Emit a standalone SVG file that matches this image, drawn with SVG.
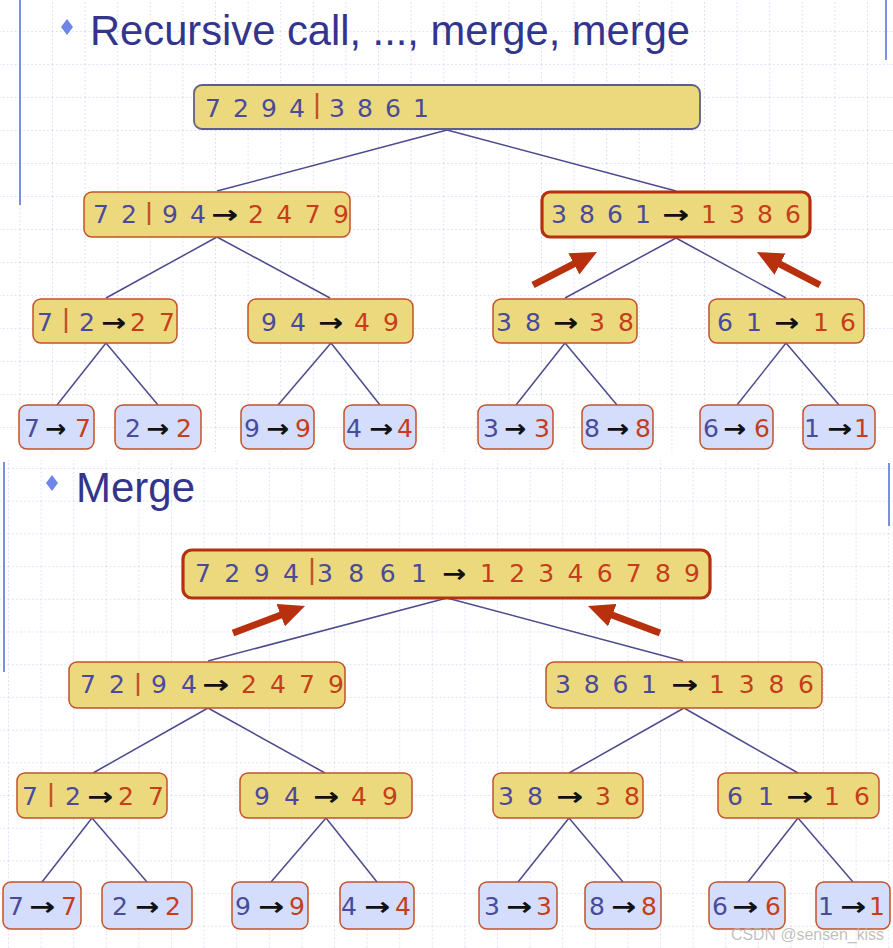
<svg xmlns="http://www.w3.org/2000/svg" width="893" height="948" viewBox="0 0 893 948">
<style>
.y{fill:#ecd97e;stroke:#c4512a;stroke-width:1.5}
.yk{fill:#ecd97e;stroke:#b5300f;stroke-width:3.2}
.yt{fill:#ecd97e;stroke:#5e5e8a;stroke-width:1.8}
.lf{fill:#d4ddfb;stroke:#c4512a;stroke-width:1.5}
text{font-family:"DejaVu Sans",Verdana,sans-serif;font-size:25px}
.b{fill:#4a4a9c}
.r{fill:#c53d1b}
.a{fill:#111;font-weight:bold}
.bar{stroke:#c4512a;stroke-width:2.5}
.conn line{stroke:#4b4b8e;stroke-width:1.5}
.big{stroke:#b8300e;stroke-width:7;marker-end:url(#hd)}
.ttl{font-family:"Liberation Sans",Arial,sans-serif;font-size:42px;fill:#33358c}
.edge{stroke:#7b8ee0;stroke-width:2}
.gl{stroke:#d5ddf2;stroke-width:1;stroke-dasharray:1.5 2.5}
</style>
<defs>
<pattern id="gT" patternUnits="userSpaceOnUse" x="19.4" y="31" width="32.6" height="33">
<line class="gl" x1="0.5" y1="0" x2="0.5" y2="33"/>
<line class="gl" x1="0" y1="0.5" x2="32.6" y2="0.5"/>
</pattern>
<pattern id="gB" patternUnits="userSpaceOnUse" x="8" y="468" width="32.6" height="32.7">
<line class="gl" x1="0.5" y1="0" x2="0.5" y2="32.7"/>
<line class="gl" x1="0" y1="0.5" x2="32.6" y2="0.5"/>
</pattern>
<marker id="hd" markerUnits="userSpaceOnUse" viewBox="0 0 26 24" markerWidth="26" markerHeight="24" refX="6" refY="12" orient="auto">
<path d="M0,0 L26,12 L0,24 z" fill="#b8300e"/>
</marker>
</defs>
<rect width="893" height="948" fill="#fff"/>
<rect x="0" y="0" width="893" height="452" fill="url(#gT)"/>
<rect x="0" y="460" width="893" height="488" fill="url(#gB)"/>
<line class="edge" x1="20" y1="0" x2="20" y2="205"/>
<line class="edge" x1="886" y1="0" x2="886" y2="60"/>
<line class="edge" x1="4" y1="462" x2="4" y2="672"/>
<line class="edge" x1="889" y1="463" x2="889" y2="526"/>

<g id="title1">
<polygon points="67,19 73,27 67,35 61,27" fill="#6f86e6"/>
<text class="ttl" x="90" y="45" textLength="600" lengthAdjust="spacingAndGlyphs">Recursive call, ..., merge, merge</text>
</g>
<g id="title2">
<polygon points="52,475 58,483 52,491 46,483" fill="#6f86e6"/>
<text class="ttl" x="76" y="502" textLength="119" lengthAdjust="spacingAndGlyphs">Merge</text>
</g>

<g class="conn" id="connectors">
<line x1="447" y1="130" x2="217" y2="191"/>
<line x1="447" y1="130" x2="676" y2="191"/>
<line x1="217" y1="237" x2="106" y2="298"/>
<line x1="217" y1="237" x2="330" y2="298"/>
<line x1="676" y1="238" x2="565" y2="298"/>
<line x1="676" y1="238" x2="786" y2="298"/>
<line x1="106" y1="343" x2="57" y2="405"/>
<line x1="106" y1="343" x2="158" y2="405"/>
<line x1="331" y1="343" x2="278" y2="405"/>
<line x1="331" y1="343" x2="380" y2="405"/>
<line x1="565" y1="343" x2="516" y2="405"/>
<line x1="565" y1="343" x2="617" y2="405"/>
<line x1="786" y1="343" x2="737" y2="405"/>
<line x1="786" y1="343" x2="839" y2="405"/>
<line x1="447" y1="598" x2="208" y2="661"/>
<line x1="447" y1="598" x2="683" y2="661"/>
<line x1="208" y1="708" x2="93" y2="773"/>
<line x1="208" y1="708" x2="325" y2="773"/>
<line x1="684" y1="708" x2="569" y2="773"/>
<line x1="684" y1="708" x2="798" y2="773"/>
<line x1="92" y1="818" x2="42" y2="882"/>
<line x1="92" y1="818" x2="147" y2="882"/>
<line x1="326" y1="818" x2="271" y2="882"/>
<line x1="326" y1="818" x2="377" y2="882"/>
<line x1="569" y1="818" x2="518" y2="882"/>
<line x1="569" y1="818" x2="623" y2="882"/>
<line x1="798" y1="818" x2="748" y2="882"/>
<line x1="798" y1="818" x2="853" y2="882"/>
</g>

<g id="merge-arrows">
<line class="big" x1="533" y1="285" x2="579.2" y2="261.2"/>
<line class="big" x1="820" y1="285" x2="774.7" y2="261.3"/>
<line class="big" x1="233" y1="633" x2="286.3" y2="613"/>
<line class="big" x1="660" y1="633" x2="606.7" y2="613"/>
</g>

<!-- top panel -->
<g id="t-root">
<rect class="yt" x="194" y="85" width="506" height="44" rx="8"/>
<text class="b" x="205" y="117" textLength="100" lengthAdjust="spacing">7 2 9 4</text>
<line class="bar" x1="317" y1="93" x2="317" y2="119"/>
<text class="b" x="329" y="117" textLength="100" lengthAdjust="spacing">3 8 6 1</text>
</g>
<g id="t-l">
<rect class="y" x="84" y="192" width="266" height="45" rx="8"/>
<text class="b" x="93" y="223" textLength="44" lengthAdjust="spacing">7 2</text>
<line class="bar" x1="149" y1="202" x2="149" y2="225"/>
<text class="b" x="162" y="223" textLength="44" lengthAdjust="spacing">9 4</text>
<text class="a" x="211" y="223" textLength="27" lengthAdjust="spacingAndGlyphs">→</text>
<text class="r" x="248" y="223" textLength="101" lengthAdjust="spacing">2 4 7 9</text>
</g>
<g id="t-r">
<rect class="yk" x="542" y="192" width="268" height="45" rx="8"/>
<text class="b" x="551" y="223" textLength="100" lengthAdjust="spacing">3 8 6 1</text>
<text class="a" x="662" y="223" textLength="27" lengthAdjust="spacingAndGlyphs">→</text>
<text class="r" x="701" y="223" textLength="100" lengthAdjust="spacing">1 3 8 6</text>
</g>
<g id="t-ll">
<rect class="y" x="33" y="299" width="144" height="44" rx="8"/>
<text class="b" x="37" y="331">7</text>
<line class="bar" x1="66" y1="308" x2="66" y2="333"/>
<text class="b" x="79" y="331">2</text>
<text class="a" x="101" y="331" textLength="25" lengthAdjust="spacingAndGlyphs">→</text>
<text class="r" x="130" y="331" textLength="45" lengthAdjust="spacing">2 7</text>
</g>
<g id="t-lr">
<rect class="y" x="248" y="299" width="165" height="44" rx="8"/>
<text class="b" x="261" y="331" textLength="45" lengthAdjust="spacing">9 4</text>
<text class="a" x="318" y="331" textLength="25" lengthAdjust="spacingAndGlyphs">→</text>
<text class="r" x="354" y="331" textLength="45" lengthAdjust="spacing">4 9</text>
</g>
<g id="t-rl">
<rect class="y" x="493" y="299" width="144" height="44" rx="8"/>
<text class="b" x="496" y="331" textLength="45" lengthAdjust="spacing">3 8</text>
<text class="a" x="553" y="331" textLength="25" lengthAdjust="spacingAndGlyphs">→</text>
<text class="r" x="589" y="331" textLength="45" lengthAdjust="spacing">3 8</text>
</g>
<g id="t-rr">
<rect class="y" x="709" y="299" width="155" height="44" rx="8"/>
<text class="b" x="717" y="331" textLength="45" lengthAdjust="spacing">6 1</text>
<text class="a" x="774" y="331" textLength="25" lengthAdjust="spacingAndGlyphs">→</text>
<text class="r" x="813" y="331" textLength="43" lengthAdjust="spacing">1 6</text>
</g>
<g id="t-leaf7">
<rect class="lf" x="19" y="405" width="75" height="44" rx="8"/>
<text class="b" x="24" y="437">7</text>
<text class="a" x="45" y="437" textLength="21" lengthAdjust="spacingAndGlyphs">→</text>
<text class="r" x="75" y="437">7</text>
</g>
<g id="t-leaf2">
<rect class="lf" x="115" y="405" width="86" height="44" rx="8"/>
<text class="b" x="125" y="437">2</text>
<text class="a" x="146" y="437" textLength="23" lengthAdjust="spacingAndGlyphs">→</text>
<text class="r" x="176" y="437">2</text>
</g>
<g id="t-leaf9">
<rect class="lf" x="241" y="405" width="73" height="44" rx="8"/>
<text class="b" x="244" y="437">9</text>
<text class="a" x="266" y="437" textLength="23" lengthAdjust="spacingAndGlyphs">→</text>
<text class="r" x="295" y="437">9</text>
</g>
<g id="t-leaf4">
<rect class="lf" x="344" y="405" width="72" height="44" rx="8"/>
<text class="b" x="346" y="437">4</text>
<text class="a" x="369" y="437" textLength="24" lengthAdjust="spacingAndGlyphs">→</text>
<text class="r" x="397" y="437">4</text>
</g>
<g id="t-leaf3">
<rect class="lf" x="478" y="405" width="75" height="44" rx="8"/>
<text class="b" x="483" y="437">3</text>
<text class="a" x="504" y="437" textLength="22" lengthAdjust="spacingAndGlyphs">→</text>
<text class="r" x="534" y="437">3</text>
</g>
<g id="t-leaf8">
<rect class="lf" x="582" y="405" width="71" height="44" rx="8"/>
<text class="b" x="584" y="437">8</text>
<text class="a" x="606" y="437" textLength="23" lengthAdjust="spacingAndGlyphs">→</text>
<text class="r" x="635" y="437">8</text>
</g>
<g id="t-leaf6">
<rect class="lf" x="700" y="405" width="73" height="44" rx="8"/>
<text class="b" x="703" y="437">6</text>
<text class="a" x="723" y="437" textLength="23" lengthAdjust="spacingAndGlyphs">→</text>
<text class="r" x="754" y="437">6</text>
</g>
<g id="t-leaf1">
<rect class="lf" x="803" y="405" width="72" height="44" rx="8"/>
<text class="b" x="804" y="437">1</text>
<text class="a" x="827" y="437" textLength="25" lengthAdjust="spacingAndGlyphs">→</text>
<text class="r" x="854" y="437">1</text>
</g>

<!-- bottom panel -->
<g id="b-root">
<rect class="yk" x="183" y="550" width="527" height="48" rx="9"/>
<text class="b" x="195" y="582" textLength="104" lengthAdjust="spacing">7 2 9 4</text>
<line class="bar" x1="312" y1="558" x2="312" y2="585"/>
<text class="b" x="317" y="582" textLength="110" lengthAdjust="spacing">3 8 6 1</text>
<text class="a" x="442" y="582" textLength="24" lengthAdjust="spacingAndGlyphs">→</text>
<text class="r" x="480" y="582" textLength="220" lengthAdjust="spacing">1 2 3 4 6 7 8 9</text>
</g>
<g id="b-l">
<rect class="y" x="69" y="662" width="276" height="46" rx="8"/>
<text class="b" x="80" y="693" textLength="45" lengthAdjust="spacing">7 2</text>
<line class="bar" x1="138" y1="673" x2="138" y2="696"/>
<text class="b" x="151" y="693" textLength="46" lengthAdjust="spacing">9 4</text>
<text class="a" x="202" y="693" textLength="27" lengthAdjust="spacingAndGlyphs">→</text>
<text class="r" x="241" y="693" textLength="103" lengthAdjust="spacing">2 4 7 9</text>
</g>
<g id="b-r">
<rect class="y" x="546" y="662" width="276" height="46" rx="8"/>
<text class="b" x="555" y="693" textLength="102" lengthAdjust="spacing">3 8 6 1</text>
<text class="a" x="671" y="693" textLength="27" lengthAdjust="spacingAndGlyphs">→</text>
<text class="r" x="709" y="693" textLength="105" lengthAdjust="spacing">1 3 8 6</text>
</g>
<g id="b-ll">
<rect class="y" x="17" y="773" width="150" height="45" rx="8"/>
<text class="b" x="22" y="805">7</text>
<line class="bar" x1="51" y1="783" x2="51" y2="807"/>
<text class="b" x="65" y="805">2</text>
<text class="a" x="87" y="805" textLength="26" lengthAdjust="spacingAndGlyphs">→</text>
<text class="r" x="118" y="805" textLength="46" lengthAdjust="spacing">2 7</text>
</g>
<g id="b-lr">
<rect class="y" x="240" y="773" width="172" height="45" rx="8"/>
<text class="b" x="254" y="805" textLength="46" lengthAdjust="spacing">9 4</text>
<text class="a" x="313" y="805" textLength="26" lengthAdjust="spacingAndGlyphs">→</text>
<text class="r" x="351" y="805" textLength="47" lengthAdjust="spacing">4 9</text>
</g>
<g id="b-rl">
<rect class="y" x="493" y="773" width="150" height="45" rx="8"/>
<text class="b" x="498" y="805" textLength="45" lengthAdjust="spacing">3 8</text>
<text class="a" x="556" y="805" textLength="27" lengthAdjust="spacingAndGlyphs">→</text>
<text class="r" x="595" y="805" textLength="45" lengthAdjust="spacing">3 8</text>
</g>
<g id="b-rr">
<rect class="y" x="718" y="773" width="161" height="45" rx="8"/>
<text class="b" x="727" y="805" textLength="47" lengthAdjust="spacing">6 1</text>
<text class="a" x="786" y="805" textLength="27" lengthAdjust="spacingAndGlyphs">→</text>
<text class="r" x="824" y="805" textLength="46" lengthAdjust="spacing">1 6</text>
</g>
<g id="b-leaf7">
<rect class="lf" x="3" y="882" width="78" height="47" rx="8"/>
<text class="b" x="8" y="915">7</text>
<text class="a" x="29" y="915" textLength="26" lengthAdjust="spacingAndGlyphs">→</text>
<text class="r" x="61" y="915">7</text>
</g>
<g id="b-leaf2">
<rect class="lf" x="102" y="882" width="90" height="47" rx="8"/>
<text class="b" x="112" y="915">2</text>
<text class="a" x="135" y="915" textLength="24" lengthAdjust="spacingAndGlyphs">→</text>
<text class="r" x="165" y="915">2</text>
</g>
<g id="b-leaf9">
<rect class="lf" x="232" y="882" width="76" height="47" rx="8"/>
<text class="b" x="235" y="915">9</text>
<text class="a" x="258" y="915" textLength="26" lengthAdjust="spacingAndGlyphs">→</text>
<text class="r" x="289" y="915">9</text>
</g>
<g id="b-leaf4">
<rect class="lf" x="340" y="882" width="74" height="47" rx="8"/>
<text class="b" x="341" y="915">4</text>
<text class="a" x="364" y="915" textLength="26" lengthAdjust="spacingAndGlyphs">→</text>
<text class="r" x="395" y="915">4</text>
</g>
<g id="b-leaf3">
<rect class="lf" x="479" y="882" width="78" height="47" rx="8"/>
<text class="b" x="484" y="915">3</text>
<text class="a" x="506" y="915" textLength="26" lengthAdjust="spacingAndGlyphs">→</text>
<text class="r" x="536" y="915">3</text>
</g>
<g id="b-leaf8">
<rect class="lf" x="585" y="882" width="76" height="47" rx="8"/>
<text class="b" x="589" y="915">8</text>
<text class="a" x="611" y="915" textLength="25" lengthAdjust="spacingAndGlyphs">→</text>
<text class="r" x="641" y="915">8</text>
</g>
<g id="b-leaf6">
<rect class="lf" x="709" y="882" width="76" height="47" rx="8"/>
<text class="b" x="712" y="915">6</text>
<text class="a" x="732" y="915" textLength="26" lengthAdjust="spacingAndGlyphs">→</text>
<text class="r" x="765" y="915">6</text>
</g>
<g id="b-leaf1">
<rect class="lf" x="816" y="882" width="74" height="47" rx="8"/>
<text class="b" x="818" y="915">1</text>
<text class="a" x="840" y="915" textLength="26" lengthAdjust="spacingAndGlyphs">→</text>
<text class="r" x="869" y="915">1</text>
</g>

<text x="731" y="940" textLength="153" lengthAdjust="spacingAndGlyphs" style="font-family:'Liberation Sans',Arial,sans-serif;font-size:17px;fill:#b4b4b4;fill-opacity:0.85">CSDN @sensen_kiss</text>
</svg>
